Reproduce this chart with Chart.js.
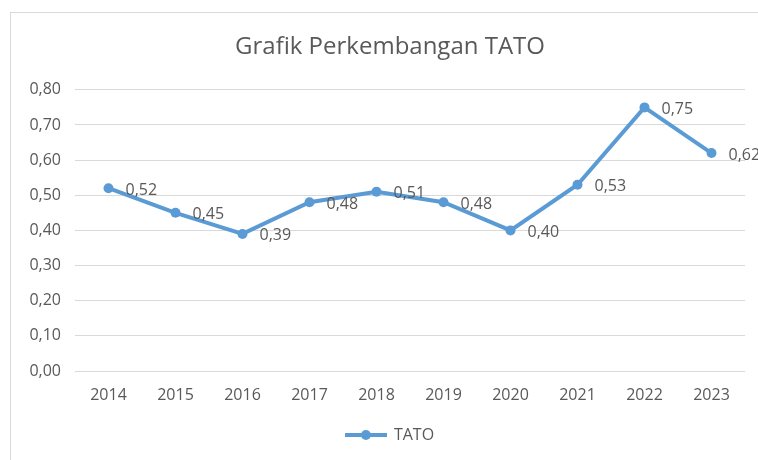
<!DOCTYPE html>
<html>
<head>
<meta charset="utf-8">
<script src="https://cdn.jsdelivr.net/npm/chart.js@4/dist/chart.umd.min.js"></script>
<style>
    html, body { margin: 0; padding: 0; background: #ffffff; overflow: hidden; width: 758px; height: 460px; }
    #box {
        position: absolute;
        left: 10px;
        top: 12px;
        width: 758px;
        height: 470px;
        border: 1px solid #d9d9d9;
        background: #ffffff;
    }
    #tato { display: block; }
</style>
</head>
<body>
<div id="box"><canvas id="tato" width="758" height="468"></canvas></div>
<script>
const years = ['2014', '2015', '2016', '2017', '2018', '2019', '2020', '2021', '2022', '2023'];
const tato = [0.52, 0.45, 0.39, 0.48, 0.51, 0.48, 0.40, 0.53, 0.75, 0.62];
const yTicks = [0, 0.1, 0.2, 0.3, 0.4, 0.5, 0.6, 0.7, 0.8];

const lineColor = '#5b9bd5';
const textColor = '#595959';
const fontFamily = '"Open Sans", Lato, sans-serif';

function fmt(v) {
    return v.toFixed(2).replace('.', ',');
}

// little line-with-marker sample for the legend
function legendMarker() {
    const c = document.createElement('canvas');
    c.width = 42;
    c.height = 12;
    const g = c.getContext('2d');
    g.strokeStyle = lineColor;
    g.lineWidth = 4;
    g.beginPath();
    g.moveTo(0, 6);
    g.lineTo(42, 6);
    g.stroke();
    g.fillStyle = lineColor;
    g.beginPath();
    g.arc(21, 6, 5, 0, Math.PI * 2);
    g.fill();
    return c;
}

// value labels to the right of each point
const valueLabels = {
    id: 'valueLabels',
    afterDatasetsDraw(chart) {
        const ctx = chart.ctx;
        const meta = chart.getDatasetMeta(0);
        ctx.save();
        ctx.font = '16px ' + fontFamily;
        ctx.fillStyle = textColor;
        ctx.textAlign = 'left';
        ctx.textBaseline = 'middle';
        meta.data.forEach(function (pt, i) {
            ctx.fillText(fmt(chart.data.datasets[0].data[i]), pt.x + 17, pt.y + 2);
        });
        ctx.restore();
    }
};

const marker = legendMarker();

const ctx = document.getElementById('tato');
_ = new Chart(ctx, {
    type: 'line',
    data: {
        labels: years,
        datasets: [{
            label: 'TATO',
            data: tato,
            borderColor: lineColor,
            backgroundColor: lineColor,
            borderWidth: 4,
            pointRadius: 5,
            pointHoverRadius: 5,
            pointBackgroundColor: lineColor,
            pointBorderWidth: 0,
            tension: 0,
            clip: false
        }]
    },
    options: {
        responsive: false,
        animation: false,
        layout: {
            padding: { left: 0, right: 0, top: 0, bottom: 28 }
        },
        plugins: {
            title: {
                display: true,
                text: 'Grafik Perkembangan TATO',
                color: textColor,
                font: { family: fontFamily, size: 24, weight: 'normal' },
                padding: { top: 20, bottom: 28 }
            },
            legend: {
                position: 'bottom',
                labels: {
                    color: textColor,
                    font: { family: fontFamily, size: 16 },
                    usePointStyle: true,
                    pointStyleWidth: 40,
                    padding: 10,
                    generateLabels: function (chart) {
                        return [{
                            text: 'TATO',
                            pointStyle: marker,
                            fontColor: textColor,
                            lineWidth: 0,
                            strokeStyle: 'transparent',
                            fillStyle: lineColor,
                            datasetIndex: 0
                        }];
                    }
                }
            },
            tooltip: { enabled: false }
        },
        scales: {
            x: {
                offset: true,
                afterFit: function (scale) { scale.height = 46; },
                grid: { display: false, drawTicks: false },
                border: { display: false },
                ticks: {
                    color: textColor,
                    font: { family: fontFamily, size: 16 },
                    padding: 15
                }
            },
            y: {
                min: 0,
                max: 0.8,
                afterFit: function (scale) { scale.width = 64; },
                afterBuildTicks: function (scale) {
                    scale.ticks = yTicks.map(function (v) { return { value: v }; });
                },
                grid: { color: '#d9d9d9', lineWidth: 1, drawTicks: false },
                border: { display: false },
                ticks: {
                    color: textColor,
                    font: { family: fontFamily, size: 16 },
                    padding: 14,
                    callback: function (v) { return fmt(v); }
                }
            },
            // empty right-hand gutter so the plot stops short of the frame
            gutter: {
                position: 'right',
                afterFit: function (scale) { scale.width = 24; },
                grid: { display: false, drawTicks: false },
                border: { display: false },
                ticks: { display: false }
            }
        }
    },
    plugins: [valueLabels]
});
</script>
</body>
</html>
